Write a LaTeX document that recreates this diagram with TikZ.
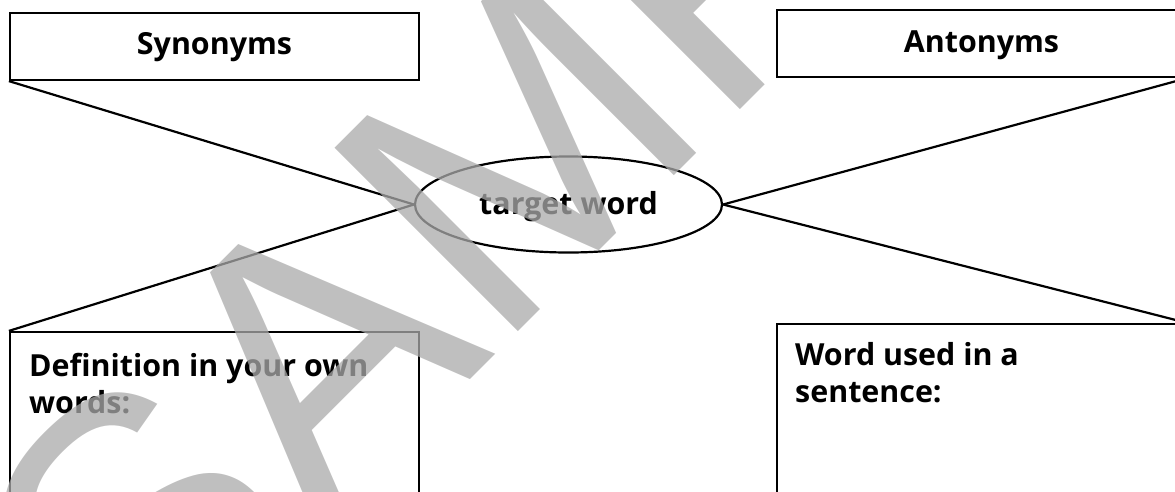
\documentclass[tikz,border=0pt]{standalone}
\usepackage{fontspec}
\setmainfont{Open Sans}
\newfontfamily\wmfont{Liberation Sans}
\usetikzlibrary{shapes.geometric}
\definecolor{wmgray}{RGB}{170,170,170}
\begin{document}
\begin{tikzpicture}[x=1pt,y=-1pt,
  labfont/.style={font=\fontsize{30.4}{37}\selectfont\bfseries},
  titlebox/.style={draw, line width=2.2pt, minimum width=409pt, minimum height=67pt, inner sep=0pt},
  titletext/.style={labfont, anchor=base, inner sep=0pt},
  openbox/.style={draw, line width=2.2pt, minimum width=409pt, minimum height=200pt, inner sep=0pt},
  boxtext/.style={labfont, anchor=north west, align=left, inner sep=0pt},
  link/.style={line width=2.2pt}]
\useasboundingbox (0,0) rectangle (1175,491);
\clip (0,0) rectangle (1175,491);
\node[titlebox] (syn) at (214.5,46.5) {};
\node[titletext] (syntext) at (214.5,54.5) {Synonyms};
\node[titlebox] (ant) at (981.5,43.5) {};
\node[titletext] (anttext) at (981.5,52.5) {Antonyms};
\node[openbox] (def) at (214.5,432) {};
\node[openbox] (use) at (981.5,424) {};
\node[boxtext] (deftext) at (29,353) {Definition in your own\\words:};
\node[boxtext] (usetext) at (795,342) {Word used in a\\sentence:};
\node[draw, ellipse, line width=2.2pt, minimum width=307pt, minimum height=96pt, inner sep=0pt] (tw) at (568.5,204.5) {};
\node[labfont, anchor=base, inner sep=0pt] (twtext) at (568.5,214.5) {target word};
\draw[link] (syn.south west) -- (tw.west);
\draw[link] (tw.west) -- (def.north west);
\draw[link] (tw.east) -- (ant.south east);
\draw[link] (tw.east) -- (use.north east);
\node[font=\wmfont\fontsize{377}{400}\selectfont, text=wmgray, text opacity=0.75, rotate=45, anchor=base west, inner sep=0pt] (wm) at (140.4,709.6) {SAMPLE};
\end{tikzpicture}
\end{document}
